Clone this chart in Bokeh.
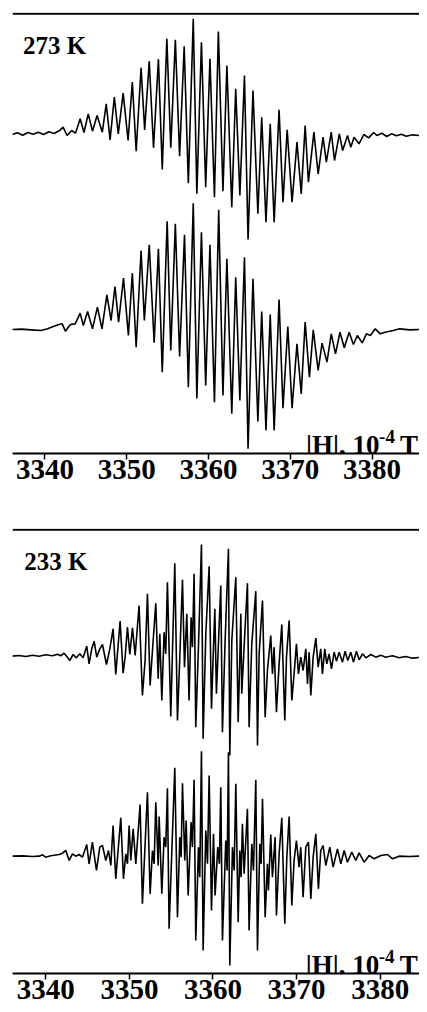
from bokeh.plotting import figure
from bokeh.models import Range1d, Span, Label, FixedTicker, ColumnDataSource
from bokeh.transform import dodge
from bokeh.layouts import column
from bokeh.embed import file_html
from bokeh.resources import INLINE

# ---------------- data ----------------
ticks = [3340, 3350, 3360, 3370, 3380]
tick_labels = ["3340", "3350", "3360", "3370", "3380"]
temperatures = ["273 K", "233 K"]
unit_parts = ["|H|, 10", "-4", "T"]

# 273 K, experimental (upper trace), field in 10^-4 T, amplitude a.u.
field_273_exp = [3336.01, 3336.65, 3337.29, 3337.93, 3338.56, 3339.20, 3339.84, 3340.48, 3341.12, 3341.75,
                 3342.23, 3342.71, 3343.27, 3343.75, 3344.31, 3344.78, 3345.30, 3345.82, 3346.38, 3347.02,
                 3347.50, 3347.97, 3348.49, 3348.97, 3349.57, 3350.17, 3350.69, 3351.16, 3351.76, 3352.20,
                 3352.76, 3353.28, 3353.88, 3354.35, 3354.91, 3355.39, 3355.95, 3356.47, 3357.03, 3357.54,
                 3358.14, 3358.58, 3359.14, 3359.66, 3360.18, 3360.73, 3361.21, 3361.77, 3362.25, 3362.85,
                 3363.33, 3363.84, 3364.40, 3364.84, 3365.44, 3366.04, 3366.51, 3367.03, 3367.55, 3368.03,
                 3368.63, 3369.11, 3369.62, 3370.22, 3370.82, 3371.34, 3371.82, 3372.22, 3372.89, 3373.41,
                 3374.01, 3374.41, 3375.01, 3375.41, 3376.00, 3376.40, 3377.00, 3377.40, 3377.80, 3378.40,
                 3379.00, 3379.59, 3380.19, 3380.59, 3381.19, 3381.79, 3382.38, 3382.98, 3383.58, 3384.18,
                 3384.98, 3385.77]
amp_273_exp = [-2, 3, -4, 4, -1, 5, -2, 6, 1, 9,
               20, -5, 10, 2, 45, 4, 60, 8, 55, 5,
               90, -18, 110, 0, 122, -20, 155, -52, 198, 12,
               218, -42, 224, -107, 285, -42, 282, -67, 263, -148,
               345, -180, 275, -160, 225, -190, 307, -172, 205, -220,
               135, -185, 175, -317, 130, -240, 50, -265, 30, -265,
               72, -205, 12, -205, -25, -180, 25, -145, 5, -120,
               -10, -85, 5, -80, 0, -50, -5, -40, -10, -30,
               -2, -12, 4, -5, 2, -8, 0, -6, -1, -7,
               -3, -5]

# 273 K, simulated (lower trace)
field_273_sim = [3336.01, 3337.13, 3338.33, 3339.52, 3340.32, 3341.12, 3341.71, 3342.11, 3342.51, 3343.11,
                 3343.71, 3344.31, 3344.70, 3345.22, 3345.82, 3346.42, 3346.98, 3347.58, 3348.09, 3348.57,
                 3349.01, 3349.61, 3350.21, 3350.69, 3351.16, 3351.76, 3352.16, 3352.76, 3353.36, 3353.88,
                 3354.35, 3354.95, 3355.39, 3355.95, 3356.47, 3357.07, 3357.54, 3358.14, 3358.58, 3359.14,
                 3359.66, 3360.18, 3360.73, 3361.25, 3361.77, 3362.25, 3362.85, 3363.33, 3363.84, 3364.40,
                 3364.84, 3365.44, 3366.04, 3366.51, 3367.03, 3367.55, 3368.03, 3368.63, 3369.11, 3369.70,
                 3370.22, 3370.82, 3371.34, 3371.82, 3372.34, 3372.81, 3373.41, 3373.89, 3374.49, 3375.01,
                 3375.53, 3376.08, 3376.60, 3377.20, 3377.72, 3378.20, 3378.80, 3379.31, 3379.79, 3380.39,
                 3380.99, 3381.59, 3382.58, 3383.38, 3384.58, 3385.77]
amp_273_sim = [0, 1, -1, -3, 2, 10, 15, 17, -5, 15,
               17, 49, 12, 54, 2, 67, 2, 104, 27, 129,
               22, 154, -18, 169, -53, 237, 27, 254, -40, 242,
               -128, 325, -63, 317, -81, 284, -173, 379, -207, 292,
               -168, 254, -218, 359, -198, 212, -253, 157, -213, 217,
               -358, 152, -276, 54, -303, 45, -303, 90, -236, 9,
               -236, -43, -193, 22, -143, -1, -123, -41, -98, -13,
               -73, -8, -55, -8, -45, -18, -40, -13, -18, 2,
               -13, -8, -3, 2, -1, 0]

# 233 K, experimental (upper trace)
field_233_exp = [3336.01, 3336.81, 3337.61, 3338.41, 3339.20, 3340.00, 3340.80, 3341.40, 3341.79, 3342.19,
                 3342.59, 3342.87, 3343.27, 3343.67, 3344.07, 3344.47, 3344.90, 3345.18, 3345.50, 3345.78,
                 3346.10, 3346.46, 3346.78, 3347.26, 3347.66, 3348.05, 3348.37, 3348.89, 3349.25, 3349.49,
                 3349.77, 3350.05, 3350.37, 3350.69, 3351.16, 3351.56, 3351.88, 3352.16, 3352.48, 3352.76,
                 3353.16, 3353.44, 3353.64, 3353.88, 3354.15, 3354.35, 3354.55, 3354.95, 3355.43, 3355.75,
                 3356.03, 3356.35, 3356.59, 3356.87, 3357.14, 3357.38, 3357.54, 3357.74, 3357.94, 3358.26,
                 3358.62, 3358.82, 3359.14, 3359.54, 3359.82, 3360.02, 3360.22, 3360.41, 3360.65, 3360.93,
                 3361.13, 3361.45, 3361.85, 3362.01, 3362.25, 3362.73, 3363.01, 3363.21, 3363.33, 3363.44,
                 3363.72, 3364.12, 3364.32, 3364.64, 3365.12, 3365.32, 3365.52, 3365.92, 3366.24, 3366.51,
                 3366.91, 3367.11, 3367.31, 3367.59, 3367.91, 3368.23, 3368.59, 3368.79, 3369.11, 3369.43,
                 3369.70, 3369.98, 3370.22, 3370.50, 3370.78, 3371.10, 3371.30, 3371.50, 3371.70, 3371.98,
                 3372.30, 3372.58, 3372.89, 3373.09, 3373.37, 3373.61, 3373.89, 3374.17, 3374.49, 3374.77,
                 3375.09, 3375.49, 3375.80, 3376.12, 3376.48, 3376.80, 3377.16, 3377.48, 3377.88, 3378.28,
                 3378.88, 3379.47, 3380.07, 3380.67, 3381.47, 3382.26, 3383.06, 3383.86, 3384.66]
amp_233_exp = [0, 2, -1, 3, 0, 4, 1, 6, 1, 9,
               -3, -13, 5, -5, 7, -5, 30, -23, 22, 45,
               -3, 22, 35, -25, 22, 82, -55, 105, -51, -3,
               87, 5, 85, 2, 152, -118, -13, 187, -88, 17,
               159, -68, 67, -133, 72, 7, 222, -181, 279, -193,
               -3, 229, -33, 127, -133, 117, 27, 247, -213, 27,
               335, -248, 67, 270, -158, -3, 142, -113, 37, 212,
               -228, 47, 322, -298, 47, 237, -198, -3, 127, -113,
               27, 219, -213, 37, 195, -268, 7, 167, -183, -43,
               62, -53, 27, -168, -23, 95, -193, -3, 107, -133,
               -53, 37, -53, -3, -43, 22, -83, 12, -118, -3,
               54, -33, 22, -53, 22, -23, 7, -38, 12, -15,
               12, -18, 15, -13, 12, -18, 15, -11, 7, -5,
               5, -3, 3, -3, 1, -5, -1, -6, -4]

# 233 K, simulated (lower trace)
field_233_sim = [3336.01, 3337.21, 3338.41, 3339.20, 3339.60, 3340.00, 3340.60, 3341.59, 3341.99, 3342.39,
                 3342.79, 3343.19, 3343.59, 3343.99, 3344.39, 3344.90, 3345.18, 3345.58, 3346.06, 3346.46,
                 3346.78, 3347.18, 3347.50, 3347.78, 3348.05, 3348.37, 3348.97, 3349.29, 3349.57, 3349.77,
                 3349.97, 3350.17, 3350.45, 3350.77, 3351.28, 3351.56, 3352.16, 3352.48, 3352.76, 3352.96,
                 3353.16, 3353.44, 3353.56, 3353.88, 3354.15, 3354.35, 3354.55, 3354.75, 3355.43, 3355.75,
                 3356.03, 3356.19, 3356.35, 3356.63, 3356.79, 3357.03, 3357.38, 3357.54, 3357.74, 3357.94,
                 3358.26, 3358.42, 3358.62, 3358.82, 3359.14, 3359.34, 3359.54, 3359.82, 3360.06, 3360.25,
                 3360.57, 3360.77, 3360.93, 3361.13, 3361.53, 3361.69, 3361.85, 3362.01, 3362.33, 3362.53,
                 3362.73, 3363.01, 3363.21, 3363.36, 3363.52, 3363.72, 3364.12, 3364.32, 3364.64, 3364.84,
                 3365.12, 3365.32, 3365.60, 3365.76, 3365.92, 3366.24, 3366.51, 3366.63, 3366.91, 3367.11,
                 3367.43, 3367.59, 3367.91, 3368.23, 3368.59, 3368.83, 3369.11, 3369.43, 3369.70, 3369.98,
                 3370.30, 3370.50, 3370.78, 3371.10, 3371.42, 3371.70, 3371.98, 3372.30, 3372.61, 3372.89,
                 3373.17, 3373.49, 3373.97, 3374.37, 3374.89, 3375.29, 3375.69, 3376.08, 3376.60, 3377.08,
                 3377.48, 3378.08, 3378.68, 3379.27, 3380.07, 3380.87, 3381.47, 3382.26, 3383.46, 3384.66]
amp_233_sim = [0, 1, -1, 0, 4, -3, 1, 5, 9, 17,
               -13, 7, 0, 5, -3, 35, -23, 42, -43, 27,
               32, -13, 17, -28, 92, -68, 115, -68, 7, -23,
               92, -13, 82, -23, 155, -143, 192, -113, 17, -23,
               162, -28, 119, -113, 57, 27, 204, -218, 265, -183,
               57, -3, 219, -13, 107, -118, 102, 27, 229, -253,
               27, -63, 315, -283, 77, -23, 242, -163, 67, -118,
               27, -23, 207, -253, 47, -43, 312, -328, 27, -43,
               217, -198, 17, -63, 97, -53, 142, -223, 37, -43,
               229, -283, 37, -23, 172, -183, -23, -103, 65, -63,
               57, -178, 7, 115, -203, -3, 119, -148, -13, 47,
               -33, 27, -123, 27, 42, -128, -3, 67, -98, 17,
               32, -28, 27, -33, 22, -23, 17, -18, 12, -13,
               10, -18, 2, -8, 2, 5, -8, 0, -1, 0]

# ---------------- drawing ----------------
FONT = "Liberation Serif"


def make_panel(height, border_top, border_left, border_bottom, x_start, x_end, y_top, line_y,
               traces, offsets, temp_text, temp_x, temp_y, unit_x, unit_y):
    p = figure(width=419, height=height,
               x_range=Range1d(x_start, x_end), y_range=Range1d(0, y_top),
               output_backend="svg", toolbar_location=None, y_axis_location=None,
               min_border_left=border_left, min_border_right=0,
               min_border_top=border_top, min_border_bottom=border_bottom)
    p.outline_line_color = None
    p.grid.visible = False
    p.background_fill_color = "white"
    p.border_fill_color = "white"

    ax = p.xaxis[0]
    ax.ticker = FixedTicker(ticks=ticks)
    ax.major_label_overrides = {t: s for t, s in zip(ticks, tick_labels)}
    ax.axis_line_color = "black"
    ax.axis_line_width = 2
    ax.major_tick_line_color = "black"
    ax.major_tick_line_width = 1.5
    ax.major_tick_in = 0
    ax.major_tick_out = 6
    ax.minor_tick_line_color = None
    ax.major_label_standoff = 0
    ax.major_label_text_font = FONT
    ax.major_label_text_font_style = "bold"
    ax.major_label_text_font_size = "29px"
    ax.major_label_text_color = "black"

    p.add_layout(Span(location=line_y, dimension="width", line_color="black", line_width=2))

    for (f, a), off in zip(traces, offsets):
        src = ColumnDataSource(dict(field=f, amp=a))
        p.line(x="field", y=dodge("amp", off), source=src,
               line_color="black", line_width=1.6)

    p.add_layout(Label(x=temp_x, y=temp_y, text=temp_text, text_font=FONT,
                       text_font_style="bold", text_font_size="25px",
                       text_baseline="alphabetic", text_align="left", text_color="black"))
    p.add_layout(Label(x=unit_x, y=unit_y, text=unit_parts[0], text_font=FONT,
                       text_font_style="bold", text_font_size="27px",
                       text_baseline="alphabetic", text_align="left", text_color="black"))
    p.add_layout(Label(x=unit_x, y=unit_y, x_offset=73, y_offset=8, text=unit_parts[1],
                       text_font=FONT, text_font_style="bold", text_font_size="19px",
                       text_baseline="alphabetic", text_align="left", text_color="black"))
    p.add_layout(Label(x=unit_x, y=unit_y, x_offset=94, text=unit_parts[2], text_font=FONT,
                       text_font_style="bold", text_font_size="27px",
                       text_baseline="alphabetic", text_align="left", text_color="black"))
    return p


p1 = make_panel(524, 12, 3, 71, 3336.04, 3385.80, 1323, 1319,
                [(field_273_exp, amp_273_exp), (field_273_sim, amp_273_sim)], [959, 372],
                temperatures[0], 3337.32, 1224, 3371.93, 27)
p2 = make_panel(488, 4, 12, 39, 3336.02, 3384.70, 1335, 1331,
                [(field_233_exp, amp_233_exp), (field_233_sim, amp_233_sim)], [952, 352],
                temperatures[1], 3337.42, 1237, 3371.10, 27)

layout = column(p1, p2, spacing=0)
open("out.html", "w").write(file_html(layout, INLINE))
